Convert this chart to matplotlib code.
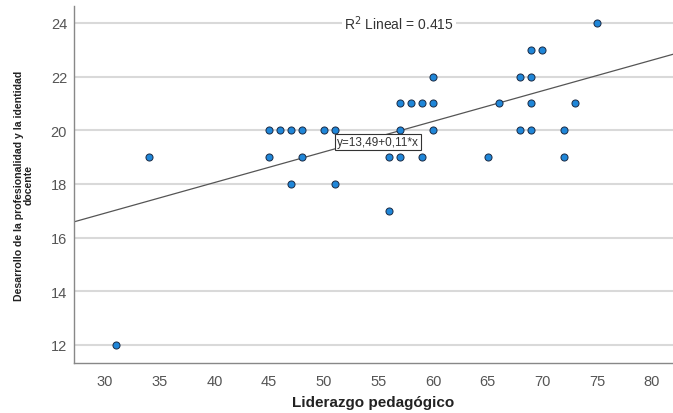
import matplotlib
matplotlib.use("Agg")
import matplotlib.pyplot as plt
import numpy as np

# Observations: liderazgo pedagógico (x) vs desarrollo profesional (y)
liderazgo = [31, 34,
             45, 48, 56, 57, 59, 65, 72,
             45, 46, 47, 48, 50, 51, 57, 60, 68, 69, 72,
             47, 51, 56,
             57, 58, 59, 60, 66, 69, 73,
             60, 68, 69,
             69, 70, 75]
desarrollo = [12, 19,
              19, 19, 19, 19, 19, 19, 19,
              20, 20, 20, 20, 20, 20, 20, 20, 20, 20, 20,
              18, 18, 17,
              21, 21, 21, 21, 21, 21, 21,
              22, 22, 22,
              23, 23, 24]

# Linear fit reported by the stats package
intercept = 13.49
slope = 0.114
r_squared = 0.415

x_ticks = [30, 35, 40, 45, 50, 55, 60, 65, 70, 75, 80]
y_ticks = [12, 14, 16, 18, 20, 22, 24]
x_lim = (27.17, 81.95)
y_lim = (11.33, 24.63)

fig = plt.figure(figsize=(6.73, 4.14), dpi=100)
ax = fig.add_axes([0.110, 0.121, 0.890, 0.862])

ax.set_xlim(*x_lim)
ax.set_ylim(*y_lim)

# Horizontal grid only
for yv in y_ticks:
    ax.axhline(yv, color="#d9d9d9", linewidth=1.5, zorder=0)

# Fit line across the full x range
xs = np.array(x_lim)
ax.plot(xs, intercept + slope * xs, color="#555555", linewidth=0.9, zorder=2)

ax.scatter(liderazgo, desarrollo, s=26, c="#1f86d8", edgecolors="#1a2a44",
           linewidths=0.7, zorder=3)

# Annotations
ax.text(56.9, 24.0, f"R$^2$ Lineal = {r_squared:.3f}", ha="center", va="center",
        fontsize=10, color="#333333", family="Liberation Sans",
        bbox=dict(facecolor="white", edgecolor="none", pad=1.5), zorder=4)
eq = f"y={intercept:.2f}+{slope:.2f}*x".replace(".", ",")
ax.text(54.95, 19.56, eq, ha="center", va="center", fontsize=8.5,
        color="#333333", family="Liberation Sans",
        bbox=dict(facecolor="white", edgecolor="#333333", linewidth=0.8, pad=1.5),
        zorder=5)

ax.set_xticks(x_ticks)
ax.set_yticks(y_ticks)
ax.tick_params(length=0, labelsize=10.5, labelcolor="#555555")
ax.tick_params(axis="x", pad=8)
ax.tick_params(axis="y", pad=5)
for lbl in ax.get_xticklabels() + ax.get_yticklabels():
    lbl.set_family("Liberation Sans")

for side in ("top", "right"):
    ax.spines[side].set_visible(False)
for side in ("left", "bottom"):
    ax.spines[side].set_color("#888888")
    ax.spines[side].set_linewidth(1.0)

ax.set_xlabel("Liderazgo pedagógico", fontsize=11, fontweight="bold",
              family="Liberation Sans", color="#222222", labelpad=5)
ax.set_ylabel("Desarrollo de la profesionalidad y la identidad\ndocente",
              fontsize=7.6, fontweight="bold", family="Liberation Sans",
              color="#222222", labelpad=12, linespacing=1.0)

fig.savefig("out.png", dpi=100)
plt.close(fig)
